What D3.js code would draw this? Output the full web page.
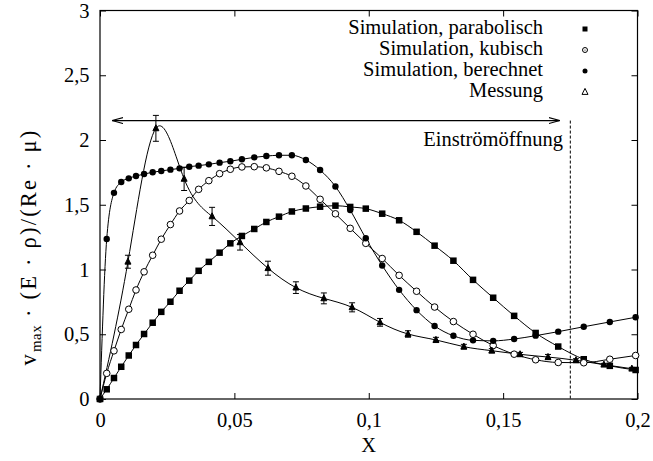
<!DOCTYPE html>
<html>
<head>
<meta charset="utf-8">
<script src="https://cdn.jsdelivr.net/npm/d3@7"></script>
<style>
  body { margin: 0; background: #fff; }
  svg { display: block; }
</style>
</head>
<body>
<svg id="chart" width="653" height="461"></svg>
<script>
// Shared x grid of the three simulation runs
const xSim = [0, 0.0025, 0.0052, 0.0079, 0.0107, 0.0134, 0.0164, 0.0196, 0.0228, 0.0262,
  0.0296, 0.0332, 0.0367, 0.0405, 0.0445, 0.0485, 0.0528, 0.0574, 0.0619, 0.0666,
  0.0714, 0.0766, 0.0819, 0.0876, 0.0931, 0.0989, 0.1050, 0.1113, 0.1178, 0.1245,
  0.1315, 0.1388, 0.1463, 0.1541, 0.1621, 0.1705, 0.1800, 0.1897, 0.1993];

const yParabolisch = [0, 0.075, 0.162, 0.249, 0.336, 0.417, 0.502, 0.589, 0.673, 0.751,
  0.836, 0.914, 0.990, 1.059, 1.130, 1.202, 1.259, 1.313, 1.367, 1.408,
  1.448, 1.471, 1.485, 1.493, 1.483, 1.470, 1.431, 1.380, 1.291, 1.184,
  1.068, 0.920, 0.782, 0.642, 0.510, 0.405, 0.307, 0.256, 0.224];

const yKubisch = [0, 0.198, 0.372, 0.537, 0.693, 0.842, 0.982, 1.110, 1.234, 1.347,
  1.452, 1.533, 1.619, 1.686, 1.740, 1.774, 1.792, 1.794, 1.785, 1.758,
  1.720, 1.645, 1.542, 1.430, 1.318, 1.202, 1.085, 0.955, 0.832, 0.710,
  0.598, 0.500, 0.413, 0.346, 0.303, 0.282, 0.280, 0.307, 0.336];

const yBerechnet = [0, 1.236, 1.592, 1.676, 1.704, 1.722, 1.737, 1.751, 1.761, 1.771,
  1.781, 1.794, 1.802, 1.812, 1.825, 1.836, 1.851, 1.866, 1.876, 1.882,
  1.882, 1.846, 1.768, 1.641, 1.459, 1.241, 1.031, 0.843, 0.686, 0.564,
  0.488, 0.453, 0.449, 0.463, 0.489, 0.520, 0.558, 0.595, 0.631];

// Measurement with error bars
const xMess = [0, 0.0104, 0.0208, 0.0313, 0.0417, 0.0521, 0.0625, 0.0729, 0.0833, 0.0938,
  0.1042, 0.1146, 0.1250, 0.1354, 0.1458, 0.1563, 0.1667, 0.1771, 0.1875, 0.1979];
const yMess = [0, 1.06, 2.09, 1.70, 1.41, 1.21, 1.01, 0.86, 0.777, 0.708,
  0.592, 0.502, 0.456, 0.404, 0.373, 0.345, 0.324, 0.299, 0.265, 0.234];
const errMess = [0, 0.05, 0.10, 0.09, 0.07, 0.06, 0.054, 0.045, 0.042, 0.035,
  0.03, 0.025, 0.02, 0.018, 0.016, 0.015, 0.02, 0.012, 0.01, 0.01];

const xTicks = [0, 0.05, 0.1, 0.15, 0.2];
const yTicks = [0, 0.5, 1, 1.5, 2, 2.5, 3];

const seriesNames = ["Simulation, parabolisch", "Simulation, kubisch", "Simulation, berechnet", "Messung"];

// Inlet opening marker
const inletX = 0.175;
const arrowX0 = 0.0045, arrowX1 = 0.171, arrowY = 2.15;
const inletLabel = "Einströmöffnung";

const FONT = "'Liberation Serif', Tinos, 'Times New Roman', Times, 'DejaVu Serif', serif";
const FS = 20.5;

const svg = d3.select("#chart");
const L = 100, R = 637.5, T = 10.5, B = 399;

const x = d3.scaleLinear().domain([0, 0.2]).range([L, R]);
const y = d3.scaleLinear().domain([0, 3]).range([B, T]);

const de = d3.formatLocale({ decimal: ",", thousands: ".", grouping: [3], currency: ["", " €"] });
const fmt = de.format("~g");

function label(sel) {
  return sel.attr("font-family", FONT).attr("font-size", FS).attr("fill", "#000");
}

// Axes: inward ticks, mirrored on opposite sides
const axB = d3.axisBottom(x).tickValues(xTicks).tickSizeInner(-6).tickSizeOuter(0).tickPadding(13).tickFormat(fmt);
const axT = d3.axisTop(x).tickValues(xTicks).tickSizeInner(-6).tickSizeOuter(0).tickFormat("");
const axLft = d3.axisLeft(y).tickValues(yTicks).tickSizeInner(-6).tickSizeOuter(0).tickPadding(10.5).tickFormat(fmt);
const axRgt = d3.axisRight(y).tickValues(yTicks).tickSizeInner(-6).tickSizeOuter(0).tickFormat("");

function styleAxis(g) {
  g.attr("font-family", FONT).attr("font-size", FS);
  g.select(".domain").remove();
  g.selectAll(".tick line").attr("stroke", "#000").attr("stroke-width", 1);
  g.selectAll(".tick text").call(label);
}
svg.append("g").attr("transform", `translate(0,${B})`).call(axB).call(styleAxis);
svg.append("g").attr("transform", `translate(0,${T})`).call(axT).call(styleAxis);
svg.append("g").attr("transform", `translate(${L},0)`).call(axLft).call(styleAxis);
svg.append("g").attr("transform", `translate(${R},0)`).call(axRgt).call(styleAxis);

svg.append("rect").attr("x", L).attr("y", T).attr("width", R - L).attr("height", B - T)
  .attr("fill", "none").attr("stroke", "#000").attr("stroke-width", 1.2);

// Axis titles
svg.append("text").attr("x", (L + R) / 2).attr("y", 452).attr("text-anchor", "middle")
  .call(label).text("X");

const yt = svg.append("text").attr("transform", "translate(36,247) rotate(-90)")
  .attr("text-anchor", "middle").call(label).attr("font-size", 22.5)
  .attr("letter-spacing", 2.2);
yt.append("tspan").text("v");
yt.append("tspan").attr("dy", 5).attr("font-size", 15).attr("letter-spacing", 0.5).text("max");
yt.append("tspan").attr("dy", -5).text(" · (E · ρ)/(Re · μ)");

// Inlet: arrow and dashed boundary
const defs = svg.append("defs");
defs.append("marker").attr("id", "ah").attr("viewBox", "0 0 11 7").attr("refX", 11).attr("refY", 3.5)
  .attr("markerWidth", 11).attr("markerHeight", 7).attr("markerUnits", "userSpaceOnUse").attr("orient", "auto-start-reverse")
  .append("path").attr("d", "M0,0.5 L11,3.5 L0,6.5").attr("fill", "none").attr("stroke", "#000").attr("stroke-width", 1.1);

svg.append("line").attr("x1", x(arrowX0)).attr("x2", x(arrowX1)).attr("y1", y(arrowY)).attr("y2", y(arrowY))
  .attr("stroke", "#000").attr("stroke-width", 1.2)
  .attr("marker-start", "url(#ah)").attr("marker-end", "url(#ah)");

svg.append("line").attr("x1", x(inletX)).attr("x2", x(inletX)).attr("y1", y(arrowY)).attr("y2", y(0))
  .attr("stroke", "#000").attr("stroke-width", 1).attr("stroke-dasharray", "3,2");

svg.append("text").attr("x", 563).attr("y", 146).attr("text-anchor", "end")
  .call(label).text(inletLabel);

// Curves
const plot = svg.append("g");
const lineMono = d3.line().x(d => x(d[0])).y(d => y(d[1])).curve(d3.curveMonotoneX);
const lineSpline = d3.line().x(d => x(d[0])).y(d => y(d[1])).curve(d3.curveNatural);

const sim = [yParabolisch, yKubisch, yBerechnet].map(ys => xSim.map((xv, i) => [xv, ys[i]]));
const mess = xMess.map((xv, i) => [xv, yMess[i], errMess[i]]);

sim.forEach(pts => {
  plot.append("path").attr("d", lineMono(pts)).attr("fill", "none").attr("stroke", "#000").attr("stroke-width", 1);
});
plot.append("path").attr("d", lineSpline(mess)).attr("fill", "none").attr("stroke", "#000").attr("stroke-width", 1);

// Error bars
const eb = plot.append("g").attr("stroke", "#000").attr("stroke-width", 1);
mess.filter(d => d[2] > 0).forEach(d => {
  const cx = x(d[0]), y0 = y(d[1] - d[2]), y1 = y(d[1] + d[2]);
  eb.append("line").attr("x1", cx).attr("x2", cx).attr("y1", y0).attr("y2", y1);
  eb.append("line").attr("x1", cx - 3).attr("x2", cx + 3).attr("y1", y0).attr("y2", y0);
  eb.append("line").attr("x1", cx - 3).attr("x2", cx + 3).attr("y1", y1).attr("y2", y1);
});

// Markers
const sym = {
  square: (g, cx, cy, s) => g.append("rect").attr("x", cx - s / 2).attr("y", cy - s / 2).attr("width", s).attr("height", s).attr("fill", "#000"),
  openCircle: (g, cx, cy, r) => g.append("circle").attr("cx", cx).attr("cy", cy).attr("r", r).attr("fill", "#fff").attr("stroke", "#000").attr("stroke-width", 1),
  dot: (g, cx, cy, r) => g.append("circle").attr("cx", cx).attr("cy", cy).attr("r", r).attr("fill", "#000"),
  triangle: (g, cx, cy, s, fill) => g.append("path")
    .attr("d", `M${cx},${cy - s * 0.6} L${cx + s / 2},${cy + s * 0.4} L${cx - s / 2},${cy + s * 0.4} Z`)
    .attr("fill", fill).attr("stroke", "#000").attr("stroke-width", 1)
};

sim[0].forEach(d => sym.square(plot, x(d[0]), y(d[1]), 6.5));
sim[1].forEach(d => sym.openCircle(plot, x(d[0]), y(d[1]), 3.3));
sim[2].forEach(d => sym.dot(plot, x(d[0]), y(d[1]), 3.2));
mess.forEach(d => sym.triangle(plot, x(d[0]), y(d[1]), 6, "#000"));

// Legend
const lg = svg.append("g");
const legY = [33.5, 54.5, 75.5, 96.5];
seriesNames.forEach((name, i) => {
  lg.append("text").attr("x", 543).attr("y", legY[i]).attr("text-anchor", "end")
    .call(label).text(name);
  const cy = legY[i] - 4.5, cx = 585;
  if (i === 0) sym.square(lg, cx, cy, 5);
  if (i === 1) { sym.openCircle(lg, cx, cy, 2.5); sym.dot(lg, cx, cy, 0.6); }
  if (i === 2) sym.dot(lg, cx, cy, 2.5);
  if (i === 3) sym.triangle(lg, cx, cy, 6, "#fff");
});
</script>
</body>
</html>
